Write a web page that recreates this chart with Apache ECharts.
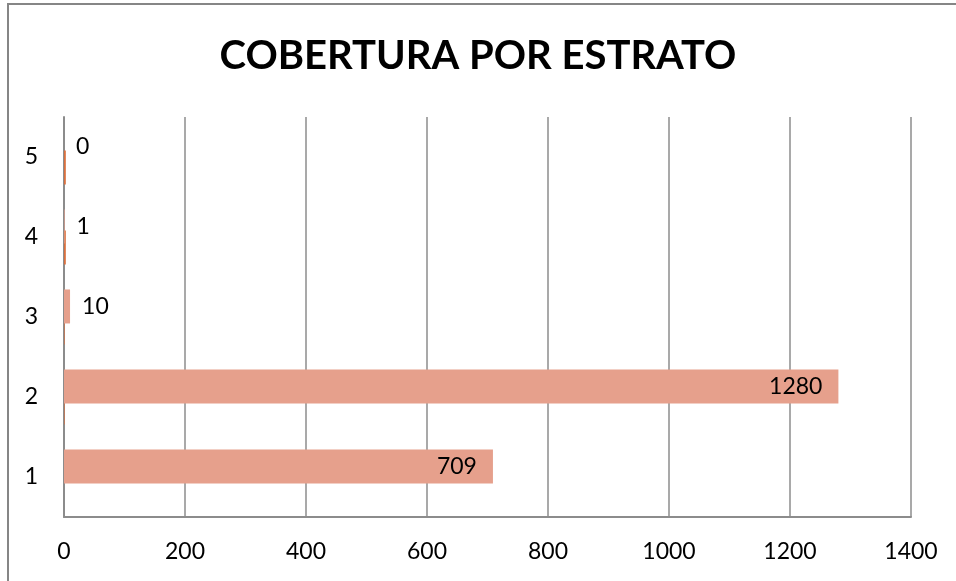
<!DOCTYPE html>
<html>
<head>
<meta charset="utf-8">
<script src="https://cdn.jsdelivr.net/npm/echarts@6/dist/echarts.min.js"></script>
<style>
  html, body { margin: 0; padding: 0; background: #fff; }
  #frame {
    position: absolute; left: 7px; top: 3px; width: 960px; height: 600px;
    border-left: 2px solid #868686; border-top: 2px solid #868686;
  }
  #chart { position: absolute; left: 0; top: 0; width: 956px; height: 581px; }
</style>
</head>
<body>
<div id="frame"></div>
<div id="chart"></div>
<script>
// estratos (de abajo hacia arriba)
const categories = ['1', '2', '3', '4', '5']
// serie principal, con etiquetas
const cobertura = [709, 1280, 10, 1, 0]
// serie secundaria, casi invisible junto al eje
const otros = [0, 1, 1, 3, 3]
const xTicks = { min: 0, max: 1400, interval: 200 }

const chart = echarts.init(document.getElementById('chart'))

const option = {
  animation: false,
  title: {
    text: 'COBERTURA POR ESTRATO',
    left: 'center',
    top: 31,
    textStyle: {
      fontFamily: 'Lato',
      fontSize: 40,
      fontWeight: 'bold',
      color: '#000'
    }
  },
  grid: {
    left: 64,
    right: 45,
    top: 117,
    bottom: 64
  },
  xAxis: {
    type: 'value',
    min: xTicks.min,
    max: xTicks.max,
    interval: xTicks.interval,
    axisLine: { show: true, lineStyle: { color: '#8c8c8c', width: 2 } },
    axisTick: { show: false },
    axisLabel: {
      color: '#000',
      fontFamily: 'Lato',
      fontSize: 23,
      margin: 23,
      formatter: v => String(v)
    },
    splitLine: { show: true, lineStyle: { color: '#8c8c8c', width: 1.5 } }
  },
  yAxis: {
    type: 'category',
    data: categories,
    axisLine: { show: true, lineStyle: { color: '#8c8c8c', width: 2 } },
    axisTick: { show: false },
    axisLabel: {
      color: '#000',
      fontFamily: 'Lato',
      fontSize: 23,
      margin: 26
    }
  },
  series: [
    {
      name: 'cobertura',
      type: 'bar',
      data: cobertura.map(v => ({
        value: v,
        label: v > 100
          ? { position: 'insideRight', distance: 16 }
          : { position: 'right', distance: 12 }
      })),
      barWidth: 34,
      barGap: '-38%',
      barCategoryGap: '31%',
      itemStyle: { color: '#e6a08c' },
      label: {
        show: true,
        color: '#000',
        fontFamily: 'Lato',
        fontSize: 23
      },
      z: 3
    },
    {
      name: 'otros',
      type: 'bar',
      data: otros,
      barWidth: 34,
      itemStyle: { color: '#d9703e' },
      z: 2
    }
  ]
}

chart.setOption(option)
</script>
</body>
</html>
